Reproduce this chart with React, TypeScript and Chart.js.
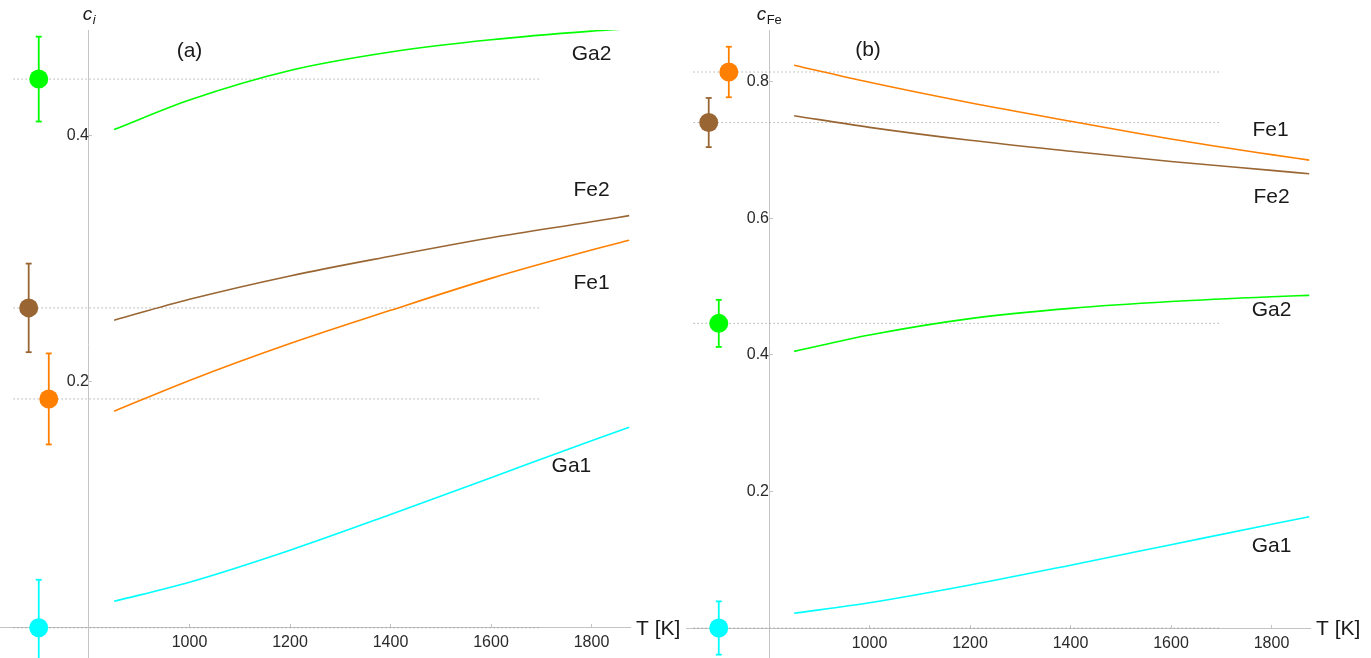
import React, { useEffect, useRef } from 'react';
import { Chart, registerables } from 'chart.js';

Chart.register(...registerables);

// ---------- data ----------
const tempK = [850, 1000, 1200, 1400, 1600, 1800, 1875];

// panel (a): site concentrations c_i
const ga2Ci = [0.405, 0.429, 0.453, 0.468, 0.478, 0.485, 0.487];
const fe2Ci = [0.250, 0.267, 0.286, 0.302, 0.317, 0.330, 0.335];
const fe1Ci = [0.176, 0.201, 0.231, 0.258, 0.284, 0.307, 0.315];
const ga1Ci = [0.0215, 0.037, 0.063, 0.092, 0.122, 0.152, 0.163];

// panel (b): Fe occupancy c_Fe
const fe1CFe = [0.824, 0.799, 0.769, 0.742, 0.716, 0.693, 0.685];
const fe2CFe = [0.750, 0.733, 0.714, 0.698, 0.683, 0.670, 0.665];
const ga2CFe = [0.405, 0.429, 0.453, 0.468, 0.478, 0.485, 0.487];
const ga1CFe = [0.0215, 0.037, 0.063, 0.092, 0.122, 0.152, 0.163];

// experimental values (drawn left of the T axis origin)
const expSites = ['Ga2', 'Fe2', 'Fe1', 'Ga1'];
const expT = [700, 680, 720, 700];
const expCi = [0.446, 0.260, 0.186, 0.0];
const expCFe = [0.446, 0.740, 0.814, 0.0];
const expErr = [0.0345, 0.036, 0.037, 0.039];
const refLineT = [650, 1700];

const xTickValues = [1000, 1200, 1400, 1600, 1800];
const yTicksA = [0.2, 0.4];
const yTicksB = [0.2, 0.4, 0.6, 0.8];

// curve label anchors (data units)
const labelSitesA = ['Ga2', 'Fe2', 'Fe1', 'Ga1'];
const labelTA = [1800, 1800, 1800, 1760];
const labelYA = [0.466, 0.356, 0.280, 0.1315];
const labelSitesB = ['Fe1', 'Fe2', 'Ga2', 'Ga1'];
const labelTB = [1798, 1800, 1800, 1800];
const labelYB = [0.729, 0.630, 0.4656, 0.1195];

// ---------- styles ----------
const FONT = '"Liberation Sans", Arial, Helvetica, sans-serif';
const COLORS: Record<string, string> = {
  Ga1: '#00ffff',
  Fe1: '#ff8000',
  Fe2: '#996633',
  Ga2: '#00ff00',
};
const AXIS = '#c4c4c4';

type Panel = {
  curves: { site: string; values: number[] }[];
  expV: number[];
  yTicks: number[];
  xMin: number;
  xMax: number;
  yMin: number;
  yMax: number;
  padRight: number;
  tag: string;
  tagT: number;
  tagY: number;
  labelSites: string[];
  labelT: number[];
  labelY: number[];
  sub: string;
  subItalic: boolean;
};

const panelA: Panel = {
  curves: [
    { site: 'Ga2', values: ga2Ci },
    { site: 'Fe2', values: fe2Ci },
    { site: 'Fe1', values: fe1Ci },
    { site: 'Ga1', values: ga1Ci },
  ],
  expV: expCi,
  yTicks: yTicksA,
  xMin: 622.9,
  xMax: 1876.6,
  yMin: -0.0246,
  yMax: 0.4859,
  padRight: 56,
  tag: '(a)',
  tagT: 1000,
  tagY: 0.4685,
  labelSites: labelSitesA,
  labelT: labelTA,
  labelY: labelYA,
  sub: 'i',
  subItalic: true,
};

const panelB: Panel = {
  curves: [
    { site: 'Fe1', values: fe1CFe },
    { site: 'Fe2', values: fe2CFe },
    { site: 'Ga2', values: ga2CFe },
    { site: 'Ga1', values: ga1CFe },
  ],
  expV: expCFe,
  yTicks: yTicksB,
  xMin: 634.8,
  xMax: 1876.6,
  yMin: -0.0439,
  yMax: 0.8755,
  padRight: 61,
  tag: '(b)',
  tagT: 997,
  tagY: 0.846,
  labelSites: labelSitesB,
  labelT: labelTB,
  labelY: labelYB,
  sub: 'Fe',
  subItalic: false,
};

function buildDatasets(p: Panel): any[] {
  const ds: any[] = [];
  // disks first so they are drawn on top
  ds.push({
    data: expSites.map((_, i) => ({ x: expT[i], y: p.expV[i] })),
    showLine: false,
    pointRadius: 9.5,
    pointHoverRadius: 9.5,
    pointBackgroundColor: expSites.map((s) => COLORS[s]),
    pointBorderWidth: 0,
    borderWidth: 0,
  });
  // error bars
  expSites.forEach((s, i) => {
    ds.push({
      data: [
        { x: expT[i], y: p.expV[i] - expErr[i] },
        { x: expT[i], y: p.expV[i] + expErr[i] },
      ],
      showLine: true,
      borderColor: COLORS[s],
      borderWidth: 1.8,
      pointStyle: 'line',
      pointRadius: 3,
      pointHoverRadius: 3,
      pointBorderColor: COLORS[s],
      pointBorderWidth: 1.8,
    });
  });
  // model curves
  p.curves.forEach((c) => {
    ds.push({
      data: tempK.map((t, i) => ({ x: t, y: c.values[i] })),
      showLine: true,
      borderColor: COLORS[c.site],
      borderWidth: 1.6,
      pointRadius: 0,
      pointHoverRadius: 0,
      cubicInterpolationMode: 'monotone',
    });
  });
  // dotted reference lines at experimental values
  expSites.forEach((_, i) => {
    ds.push({
      data: refLineT.map((t) => ({ x: t, y: p.expV[i] })),
      showLine: true,
      borderColor: '#8a8a8a',
      borderWidth: 1,
      borderDash: [1, 3],
      pointRadius: 0,
      pointHoverRadius: 0,
    });
  });
  return ds;
}

function makeTextPlugin(p: Panel) {
  return {
    id: 'panelText' + p.tag,
    afterDraw(chart: any) {
      const { ctx, chartArea } = chart;
      const xs = chart.scales.x;
      const ys = chart.scales.y;
      ctx.save();
      ctx.fillStyle = '#1a1a1a';
      ctx.font = `21px ${FONT}`;
      ctx.textAlign = 'center';
      ctx.textBaseline = 'middle';
      p.labelSites.forEach((s, i) => {
        ctx.fillText(s, xs.getPixelForValue(p.labelT[i]), ys.getPixelForValue(p.labelY[i]));
      });
      ctx.fillText(p.tag, xs.getPixelForValue(p.tagT), ys.getPixelForValue(p.tagY));

      // x axis label
      ctx.textAlign = 'left';
      ctx.fillText('T [K]', chartArea.right + 6, ys.getPixelForValue(0) + 1);

      // y axis label c_i / c_Fe, centred on the y axis
      const ax = xs.getPixelForValue(800);
      const cFont = `italic 19px ${FONT}`;
      const sFont = `${p.subItalic ? 'italic ' : ''}13px ${FONT}`;
      ctx.font = cFont;
      const wc = ctx.measureText('c').width;
      ctx.font = sFont;
      const ws = ctx.measureText(p.sub).width;
      const sx = ax - (wc + ws) / 2;
      ctx.textBaseline = 'alphabetic';
      ctx.font = cFont;
      ctx.fillText('c', sx, 20);
      ctx.font = sFont;
      ctx.fillText(p.sub, sx + wc + 0.5, 24);
      ctx.restore();
    },
  };
}

const zeroPadding = (s: any) => {
  s.paddingTop = 0;
  s.paddingBottom = 0;
  s.paddingLeft = 0;
  s.paddingRight = 0;
};

function makeConfig(p: Panel): any {
  return {
    type: 'scatter',
    data: { datasets: buildDatasets(p) },
    options: {
      animation: false,
      responsive: false,
      devicePixelRatio: 1,
      events: [],
      layout: {
        autoPadding: false,
        padding: { left: 0, top: 30, right: p.padRight, bottom: 0 },
      },
      plugins: {
        legend: { display: false },
        tooltip: { enabled: false },
        title: { display: false },
      },
      scales: {
        x: {
          type: 'linear',
          min: p.xMin,
          max: p.xMax,
          position: { y: 0 },
          border: { display: true, color: AXIS, width: 1 },
          grid: {
            display: true,
            drawOnChartArea: false,
            drawTicks: true,
            tickLength: -4,
            color: AXIS,
          },
          ticks: {
            padding: 9.5,
            color: '#2a2a2a',
            font: { family: FONT, size: 16 },
            maxRotation: 0,
            autoSkip: false,
            callback: (v: number) => String(v),
          },
          afterBuildTicks: (s: any) => {
            s.ticks = xTickValues.map((v) => ({ value: v }));
          },
          afterFit: zeroPadding,
        },
        y: {
          type: 'linear',
          min: p.yMin,
          max: p.yMax,
          position: { x: 800 },
          border: { display: true, color: AXIS, width: 1 },
          grid: {
            display: true,
            drawOnChartArea: false,
            drawTicks: true,
            tickLength: -4,
            color: AXIS,
          },
          ticks: {
            padding: 8,
            color: '#2a2a2a',
            font: { family: FONT, size: 16 },
            autoSkip: false,
            callback: (v: number) => v.toFixed(1),
          },
          afterBuildTicks: (s: any) => {
            s.ticks = p.yTicks.map((v) => ({ value: v }));
          },
          afterFit: zeroPadding,
        },
      },
    },
    plugins: [makeTextPlugin(p)],
  };
}

function PanelChart({ panel, left, width }: { panel: Panel; left: number; width: number }) {
  const ref = useRef<HTMLCanvasElement | null>(null);
  useEffect(() => {
    if (!ref.current) return;
    const chart = new Chart(ref.current, makeConfig(panel));
    return () => chart.destroy();
  }, [panel]);
  return (
    <canvas
      ref={ref}
      width={width}
      height={658}
      style={{ position: 'absolute', left, top: 0, width, height: 658 }}
    />
  );
}

export default function App() {
  return (
    <div
      style={{
        position: 'absolute',
        left: 0,
        top: 0,
        width: 1371,
        height: 658,
        background: '#ffffff',
        overflow: 'hidden',
      }}
    >
      <PanelChart panel={panelA} left={0} width={686} />
      <PanelChart panel={panelB} left={686} width={685} />
    </div>
  );
}
